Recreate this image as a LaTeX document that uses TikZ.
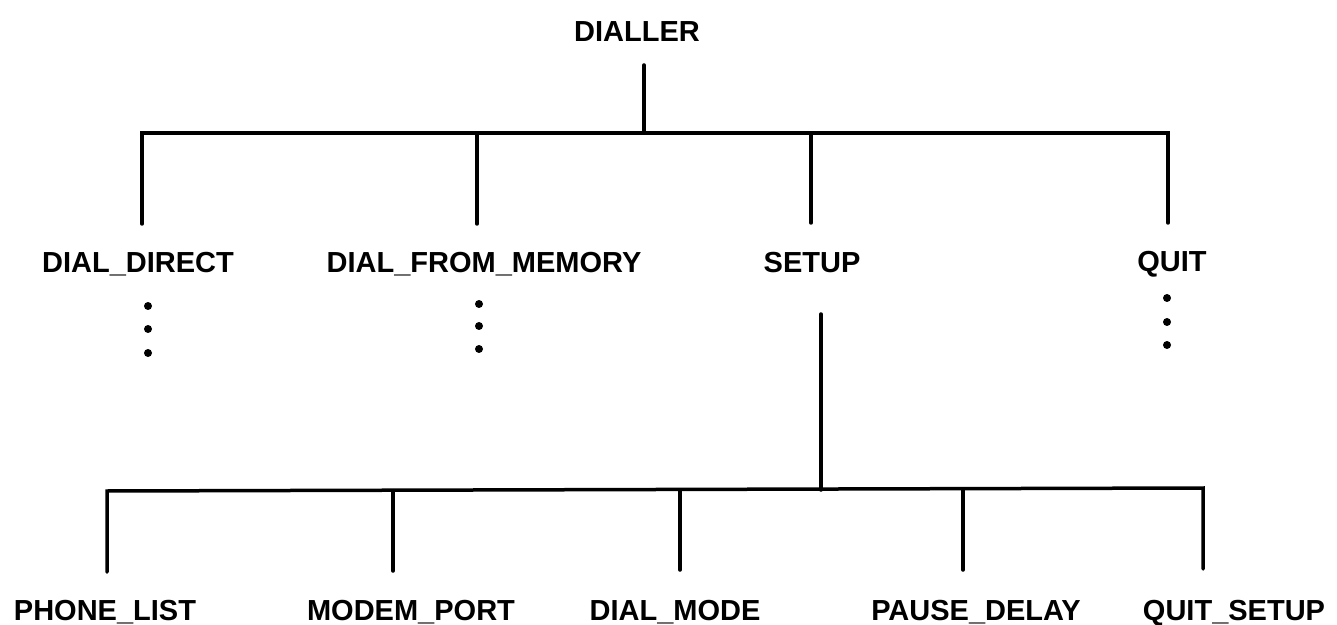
\documentclass[tikz,border=0pt]{standalone}
\usepackage{fontspec}
\setmainfont{Liberation Sans}
\begin{document}
\begin{tikzpicture}[x=0.5pt,y=-0.5pt,
  label/.style={font=\bfseries\fontsize{14.5pt}{16pt}\selectfont, anchor=base, inner sep=0pt},
  dot/.style={circle, fill=black, draw=none, inner sep=0pt, minimum size=4pt},
  link/.style={line width=1.75pt, line cap=round, line join=miter}]
\useasboundingbox (0,0) rectangle (1337,625);
\fill[white] (0,0) rectangle (1337,625);

% menu titles
\node[label] (dialler) at (637,42) {DIALLER};
\node[label] (direct)  at (138,273) {DIAL\_DIRECT};
\node[label] (memory)  at (484,273) {DIAL\_FROM\_MEMORY};
\node[label] (setup)   at (812,273) {SETUP};
\node[label] (quit)    at (1172,272) {QUIT};
\node[label] (phone)   at (105,620) {PHONE\_LIST};
\node[label] (modem)   at (411,620) {MODEM\_PORT};
\node[label] (mode)    at (675,620) {DIAL\_MODE};
\node[label] (pause)   at (976,620) {PAUSE\_DELAY};
\node[label] (qsetup)  at (1234,620) {QUIT\_SETUP};

% stub ends of the tree lines
\coordinate (dialler-s) at (644,65);
\coordinate (dialler-b) at (644,133);
\coordinate (direct-b)  at (142,133);
\coordinate (direct-s)  at (142,224);
\coordinate (memory-b)  at (477,133);
\coordinate (memory-s)  at (477,224);
\coordinate (setup-b)   at (811,133);
\coordinate (setup-s)   at (811,223);
\coordinate (quit-b)    at (1168,133);
\coordinate (quit-s)    at (1168,223);

\coordinate (setup-d)   at (821,314);
\coordinate (setup-j)   at (821,490);
\coordinate (phone-b)   at (107,491);
\coordinate (phone-s)   at (107,572);
\coordinate (modem-b)   at (393,491);
\coordinate (modem-s)   at (393,571);
\coordinate (mode-b)    at (680,490);
\coordinate (mode-s)    at (680,570);
\coordinate (pause-b)   at (963,489);
\coordinate (pause-s)   at (963,570);
\coordinate (qsetup-b)  at (1203,488);
\coordinate (qsetup-s)  at (1203,569);

% first level
\draw[link] (dialler-s) -- (dialler-b);
\draw[link] (direct-s) -- (direct-b) -- (quit-b) -- (quit-s);
\draw[link] (memory-b) -- (memory-s);
\draw[link] (setup-b) -- (setup-s);

% SETUP submenu
\draw[link] (setup-d) -- (setup-j);
\draw[link] (phone-s) -- (phone-b) -- (qsetup-b) -- (qsetup-s);
\draw[link] (modem-b) -- (modem-s);
\draw[link] (mode-b) -- (mode-s);
\draw[link] (pause-b) -- (pause-s);

% elided submenus
\node[dot] (dd1) at (148,306) {};
\node[dot] (dd2) at (148,329) {};
\node[dot] (dd3) at (148,353) {};
\node[dot] (dm1) at (479,304) {};
\node[dot] (dm2) at (479,326) {};
\node[dot] (dm3) at (479,349) {};
\node[dot] (dq1) at (1167,298) {};
\node[dot] (dq2) at (1167,322) {};
\node[dot] (dq3) at (1167,345) {};
\end{tikzpicture}
\end{document}
